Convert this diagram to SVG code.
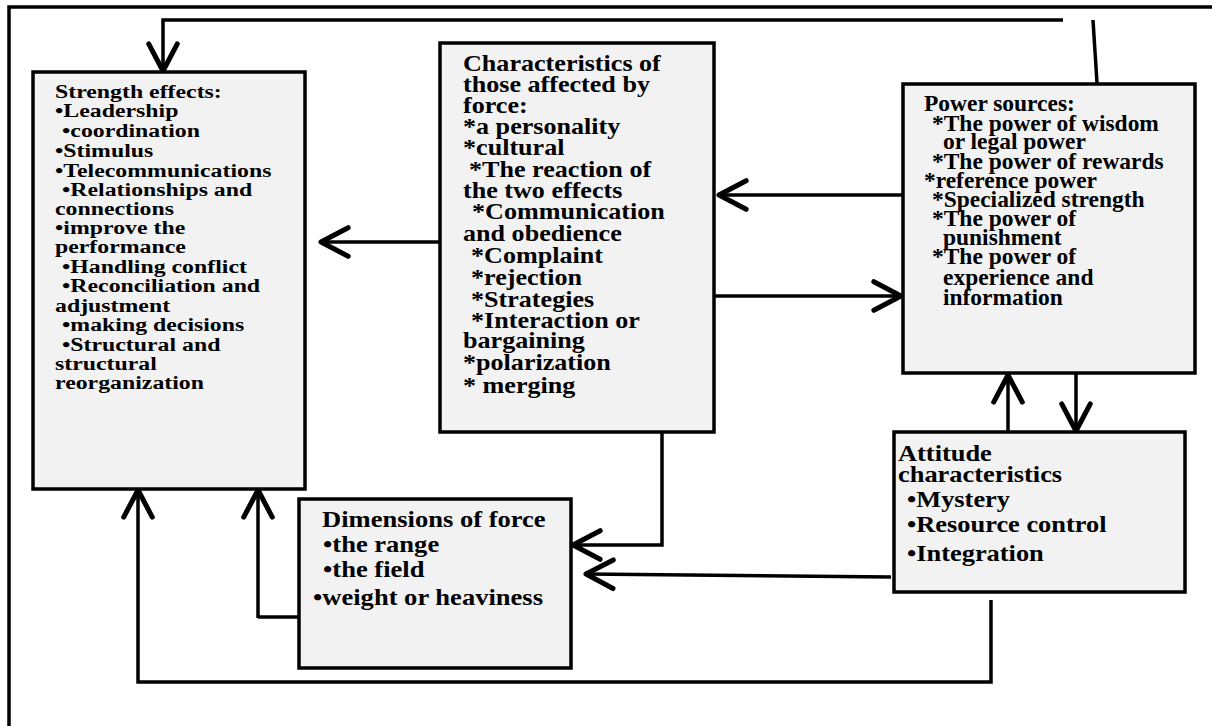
<svg xmlns="http://www.w3.org/2000/svg" width="1212" height="726" viewBox="0 0 1212 726">
<defs>
<style>
.box{fill:#f2f2f2;stroke:#000;stroke-width:3.5}
.ln{fill:none;stroke:#000;stroke-width:3.5;stroke-linecap:butt;stroke-linejoin:miter}
.t{font-family:"Liberation Serif","Times New Roman",serif;font-weight:bold;fill:#000}
.s{font-size:18.6px}
.c{font-size:22.5px}
.p{font-size:23px}
.d{font-size:23.5px}
.a{font-size:24px}
</style>
<marker id="ah" markerUnits="userSpaceOnUse" markerWidth="40" markerHeight="40" viewBox="-24 -14 28 28" refX="0" refY="0" orient="auto" overflow="visible">
<path d="M-19,-10 L0,0 L-19,10" fill="none" stroke="#000" stroke-width="3.5" stroke-linecap="round" stroke-linejoin="round"/>
</marker>
</defs>
<rect width="1212" height="726" fill="#fff"/>
<g id="frame">
<path class="ln" d="M9,726 L9,7 L1212,7" stroke-width="3"/>
</g>
<g id="connectors">
<path class="ln" d="M1063,20 L163,20 L163,71" marker-end="url(#ah)"/>
<path class="ln" d="M1093,20 L1097,83" stroke-width="3"/>
<path class="ln" d="M440,242 L321,242" marker-end="url(#ah)"/>
<path class="ln" d="M903,195 L719,195" marker-end="url(#ah)"/>
<path class="ln" d="M714,296 L901,296" marker-end="url(#ah)"/>
<path class="ln" d="M662,432 L662,545 L573,545" marker-end="url(#ah)"/>
<path class="ln" d="M891,577 L586,574" marker-end="url(#ah)"/>
<path class="ln" d="M1008,432 L1008,375" marker-end="url(#ah)"/>
<path class="ln" d="M1076,373 L1076,431" marker-end="url(#ah)"/>
<path class="ln" d="M991,600 L991,682 L138,682 L138,490" marker-end="url(#ah)"/>
<path class="ln" d="M258,618 L258,490" stroke-width="3" marker-end="url(#ah)"/>
<path class="ln" d="M258,617 L312,617" stroke-width="4"/>
</g>
<g id="strength-effects">
<rect class="box" x="33" y="72" width="272" height="417"/>
<g class="t s">
<text transform="translate(55,98) scale(1.28,1)">Strength effects:</text>
<text transform="translate(55,117) scale(1.28,1)">•Leadership</text>
<text transform="translate(62,137) scale(1.28,1)">•coordination</text>
<text transform="translate(55,157) scale(1.28,1)">•Stimulus</text>
<text transform="translate(55,177) scale(1.28,1)">•Telecommunications</text>
<text transform="translate(62,196) scale(1.28,1)">•Relationships and</text>
<text transform="translate(55,215) scale(1.28,1)">connections</text>
<text transform="translate(55,234) scale(1.28,1)">•improve the</text>
<text transform="translate(55,253) scale(1.28,1)">performance</text>
<text transform="translate(62,273) scale(1.28,1)">•Handling conflict</text>
<text transform="translate(62,292) scale(1.28,1)">•Reconciliation and</text>
<text transform="translate(55,312) scale(1.28,1)">adjustment</text>
<text transform="translate(62,331) scale(1.28,1)">•making decisions</text>
<text transform="translate(62,351) scale(1.28,1)">•Structural and</text>
<text transform="translate(55,370) scale(1.28,1)">structural</text>
<text transform="translate(55,389) scale(1.28,1)">reorganization</text>
</g>
</g>
<g id="characteristics-affected">
<rect class="box" x="440" y="43" width="274" height="389"/>
<g class="t c">
<text transform="translate(463,71) scale(1.16,1)">Characteristics of</text>
<text transform="translate(463,92) scale(1.16,1)">those affected by</text>
<text transform="translate(463,113) scale(1.16,1)">force:</text>
<text transform="translate(463,134) scale(1.16,1)">*a personality</text>
<text transform="translate(463,155) scale(1.16,1)">*cultural</text>
<text transform="translate(469,177) scale(1.16,1)">*The reaction of</text>
<text transform="translate(463,198) scale(1.16,1)">the two effects</text>
<text transform="translate(472,219) scale(1.16,1)">*Communication</text>
<text transform="translate(463,241) scale(1.16,1)">and obedience</text>
<text transform="translate(471,263) scale(1.16,1)">*Complaint</text>
<text transform="translate(471,285) scale(1.16,1)">*rejection</text>
<text transform="translate(471,307) scale(1.16,1)">*Strategies</text>
<text transform="translate(471,328) scale(1.16,1)">*Interaction or</text>
<text transform="translate(463,348) scale(1.16,1)">bargaining</text>
<text transform="translate(463,370) scale(1.16,1)">*polarization</text>
<text transform="translate(463,393) scale(1.16,1)">* merging</text>
</g>
</g>
<g id="power-sources">
<rect class="box" x="903" y="84" width="292" height="289"/>
<g class="t p">
<text transform="translate(924,111) scale(1.02,1)">Power sources:</text>
<text transform="translate(932,131) scale(1.02,1)">*The power of wisdom</text>
<text transform="translate(943,149) scale(1.02,1)">or legal power</text>
<text transform="translate(932,169) scale(1.02,1)">*The power of rewards</text>
<text transform="translate(924,188) scale(1.02,1)">*reference power</text>
<text transform="translate(932,207) scale(1.02,1)">*Specialized strength</text>
<text transform="translate(932,226) scale(1.02,1)">*The power of</text>
<text transform="translate(943,245) scale(1.02,1)">punishment</text>
<text transform="translate(932,264) scale(1.02,1)">*The power of</text>
<text transform="translate(943,285) scale(1.02,1)">experience and</text>
<text transform="translate(943,305) scale(1.02,1)">information</text>
</g>
</g>
<g id="dimensions-of-force">
<rect class="box" x="299" y="499" width="272" height="169"/>
<g class="t d">
<text transform="translate(322,527) scale(1.13,1)">Dimensions of force</text>
<text transform="translate(323,552) scale(1.13,1)">•the range</text>
<text transform="translate(323,577) scale(1.13,1)">•the field</text>
<text transform="translate(313,605) scale(1.13,1)">•weight or heaviness</text>
</g>
</g>
<g id="attitude-characteristics">
<rect class="box" x="894" y="432" width="291" height="160"/>
<g class="t a">
<text transform="translate(898,461) scale(1.1,1)">Attitude</text>
<text transform="translate(898,482) scale(1.1,1)">characteristics</text>
<text transform="translate(907,507) scale(1.1,1)">•Mystery</text>
<text transform="translate(907,532) scale(1.1,1)">•Resource control</text>
<text transform="translate(907,561) scale(1.1,1)">•Integration</text>
</g>
</g>
</svg>
